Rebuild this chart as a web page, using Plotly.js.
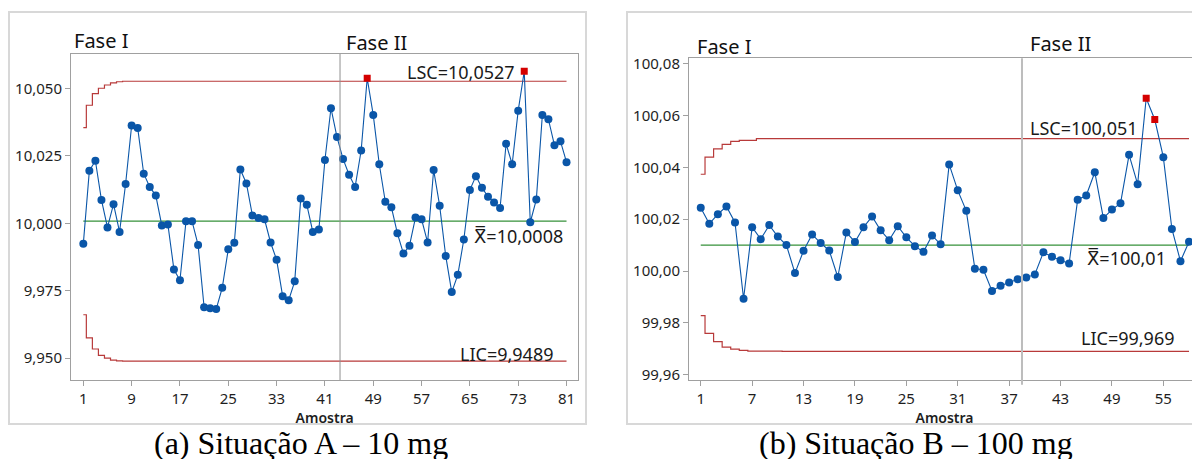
<!DOCTYPE html>
<html>
<head>
<meta charset="utf-8">
<script src="https://cdn.plot.ly/plotly-3.0.1.min.js"></script>
<style>
html,body{margin:0;padding:0;overflow:hidden;background:#fff;}
#chart{width:1210px;height:461px;}
</style>
</head>
<body>
<div id="chart"></div>
<script>
// ---- Situação A (10 mg) ----
const valuesA = [9.9924, 10.0195, 10.0232, 10.0087, 9.9985, 10.0071, 9.9968, 10.0146, 10.0363, 10.0354,
 10.0184, 10.0135, 10.0103, 9.9992, 9.9996, 9.9829, 9.9789, 10.0008, 10.0008, 9.9920,
 9.9689, 9.9685, 9.9682, 9.9761, 9.9904, 9.9928, 10.0200, 10.0148, 10.0029, 10.0020,
 10.0015, 9.9929, 9.9865, 9.9730, 9.9715, 9.9785, 10.0092, 10.0069, 9.9968, 9.9977,
 10.0235, 10.0427, 10.0320, 10.0239, 10.0180, 10.0135, 10.0270, 10.0538, 10.0402, 10.0219,
 10.0080, 10.0060, 9.9963, 9.9888, 9.9917, 10.0022, 10.0015, 9.9929, 10.0198, 10.0065,
 9.9879, 9.9745, 9.9809, 9.9940, 10.0124, 10.0175, 10.0132, 10.0099, 10.0077, 10.0057,
 10.0295, 10.0219, 10.0418, 10.0564, 10.0004, 10.0088, 10.0402, 10.0386, 10.0290, 10.0304,
 10.0227];
const outA = [48, 74];
const meanA = 10.0008;
const uclA = 10.0527;
const lclA = 9.9489;
const uclStartA = [10.0355, 10.0438, 10.0481, 10.0501, 10.0513, 10.0521, 10.0525];
const lclStartA = [9.9661, 9.9575, 9.9534, 9.9510, 9.9500, 9.9493, 9.9490];
const phaseSplitA = 43.5;
const ticksXA = [1, 9, 17, 25, 33, 41, 49, 57, 65, 73, 81];
const ticksYA = [9.950, 9.975, 10.000, 10.025, 10.050];

// ---- Situação B (100 mg) ----
const valuesB = [100.0244, 100.0182, 100.0219, 100.0249, 100.0187, 99.9893, 100.0169, 100.0123, 100.0177, 100.0133,
 100.0100, 99.9992, 100.0078, 100.0141, 100.0108, 100.0079, 99.9977, 100.0149, 100.0112, 100.0169,
 100.0210, 100.0157, 100.0119, 100.0173, 100.0130, 100.0096, 100.0074, 100.0137, 100.0103, 100.0411,
 100.0311, 100.0232, 100.0009, 100.0005, 99.9923, 99.9943, 99.9956, 99.9968, 99.9975, 99.9987,
 100.0072, 100.0055, 100.0042, 100.0029, 100.0275, 100.0291, 100.0381, 100.0204, 100.0237, 100.0261,
 100.0448, 100.0335, 100.0666, 100.0584, 100.0439, 100.0162, 100.0038, 100.0113];
const outB = [53, 54];
const meanB = 100.01;
const uclB = 100.051;
const lclB = 99.969;
const uclStartB = [100.0373, 100.0439, 100.0471, 100.0488, 100.0500, 100.0504, 100.0504];
const lclStartB = [99.9828, 99.9760, 99.9728, 99.9707, 99.9699, 99.9694, 99.9691, 99.9691, 99.9691, 99.9691];
const phaseSplitB = 38.5;
const ticksXB = [1, 7, 13, 19, 25, 31, 37, 43, 49, 55];
const ticksYB = [99.96, 99.98, 100.00, 100.02, 100.04, 100.06, 100.08];

const W = 1210, H = 461;
const px = v => v / W;
const py = v => 1 - v / H;

const BLUE = '#0a56a8', RED = '#d40000', LIMIT = '#b83a3a', GREEN = '#36913a';

function limitSeries(n, start, c) {
  const out = [];
  for (let i = 0; i < n; i++) out.push(i < start.length ? start[i] : c);
  return out;
}

function panelTraces(vals, outs, mean, ucl, lcl, uStart, lStart, xa, ya) {
  const n = vals.length;
  const xs = vals.map((_, i) => i + 1);
  const isOut = xs.map(s => outs.indexOf(s) >= 0);
  return [
    {x: xs, y: limitSeries(n, uStart, ucl), mode: 'lines', line: {color: LIMIT, width: 1.2, shape: 'hvh'}, xaxis: xa, yaxis: ya, hoverinfo: 'skip'},
    {x: xs, y: limitSeries(n, lStart, lcl), mode: 'lines', line: {color: LIMIT, width: 1.2, shape: 'hvh'}, xaxis: xa, yaxis: ya, hoverinfo: 'skip'},
    {x: [1, n], y: [mean, mean], mode: 'lines', line: {color: GREEN, width: 1.2}, xaxis: xa, yaxis: ya, hoverinfo: 'skip'},
    {x: xs, y: vals, mode: 'lines+markers', line: {color: BLUE, width: 1.1},
     marker: {color: isOut.map(o => o ? RED : BLUE), size: isOut.map(o => o ? 7 : 8), symbol: isOut.map(o => o ? 'square' : 'circle'),
              opacity: 1, line: {width: 0}},
     xaxis: xa, yaxis: ya}
  ];
}

const data = [].concat(
  panelTraces(valuesA, outA, meanA, uclA, lclA, uclStartA, lclStartA, 'x', 'y'),
  panelTraces(valuesB, outB, meanB, uclB, lclB, uclStartB, lclStartB, 'x2', 'y2')
);

const axisFont = {family: 'Noto Sans, sans-serif', size: 15, color: '#1e1e1e'};
const xCommon = {showgrid: false, zeroline: false, showline: true, linecolor: '#a0a0a0', linewidth: 1, mirror: true,
  ticks: 'outside', ticklen: 5, tickcolor: '#a0a0a0', tickfont: axisFont, tickmode: 'array',
  title: {text: 'Amostra', font: {family: 'Noto Sans, sans-serif', size: 14, color: '#1e1e1e', weight: 600}, standoff: 1}};
const yCommon = {showgrid: false, zeroline: false, showline: true, linecolor: '#a0a0a0', linewidth: 1, mirror: true,
  ticks: 'outside', ticklen: 5, tickcolor: '#a0a0a0', tickfont: axisFont, tickmode: 'array'};

const lblFont = {family: 'Noto Sans, sans-serif', size: 18, color: '#1a1a1a'};
const faseFont = {family: 'Noto Sans, sans-serif', size: 20, color: '#111'};
const capFont = {family: 'Liberation Serif, serif', size: 32, color: '#000'};
function ann(text, x, y, font, xanchor, yanchor) {
  return {text: text, x: px(x), y: py(y), xref: 'paper', yref: 'paper', xanchor: xanchor || 'left', yanchor: yanchor || 'middle', showarrow: false, font: font};
}
const XBAR = '<span style="font-family:DejaVu Sans">X\u033F</span>';
function caption(text, x) {
  const a = ann(text, x, 461, capFont, 'center', 'bottom');
  a.height = 32; a.valign = 'middle';
  return a;
}

const layout = {
  width: W, height: H,
  margin: {l: 0, r: 0, t: 0, b: 0},
  paper_bgcolor: '#fff', plot_bgcolor: '#fff',
  showlegend: false,
  separators: ',.',
  xaxis: Object.assign({}, xCommon, {domain: [px(71), px(578.3)], range: [-1.04, 82.95], tickvals: ticksXA, anchor: 'y'}),
  yaxis: Object.assign({}, yCommon, {domain: [py(380), py(54)], range: [9.9419, 10.0628], tickvals: ticksYA, tickformat: '.3f', anchor: 'x'}),
  xaxis2: Object.assign({}, xCommon, {domain: [px(689), px(1200)], range: [-0.37, 59.28], tickvals: ticksXB, anchor: 'y2'}),
  yaxis2: Object.assign({}, yCommon, {domain: [py(380), py(58.3)], range: [99.958, 100.082], tickvals: ticksYB, tickformat: '.2f', anchor: 'x2'}),
  shapes: [
    {type: 'rect', xref: 'paper', yref: 'paper', x0: px(9), x1: px(586), y0: py(424), y1: py(12), line: {color: '#d8d8d8', width: 2}},
    {type: 'rect', xref: 'paper', yref: 'paper', x0: px(627), x1: px(1206), y0: py(424), y1: py(12), line: {color: '#d8d8d8', width: 2}},
    {type: 'line', xref: 'x', yref: 'y domain', x0: phaseSplitA, x1: phaseSplitA, y0: 0, y1: 1, line: {color: '#909090', width: 1}},
    {type: 'line', xref: 'x2', yref: 'y2 domain', x0: phaseSplitB, x1: phaseSplitB, y0: -0.015, y1: 1, line: {color: '#bdbdbd', width: 2}}
  ],
  annotations: [
    ann('Fase I', 71.7, 40.8, faseFont),
    ann('Fase II', 344.3, 42.8, faseFont),
    ann('LSC=10,0527', 405, 72.3, lblFont),
    ann(XBAR + '=10,0008', 471.7, 236, lblFont),
    ann('LIC=9,9489', 458, 353.8, lblFont),
    ann('Fase I', 695, 46.2, faseFont),
    ann('Fase II', 1027.7, 43, faseFont),
    ann('LSC=100,051', 1027.7, 128.3, lblFont),
    ann(XBAR + '=100,01', 1085, 257.8, lblFont),
    ann('LIC=99,969', 1079.3, 337.7, lblFont),
    caption('(a) Situação A – 10 mg', 301),
    caption('(b) Situação B – 100 mg', 916)
  ]
};

Plotly.newPlot('chart', data, layout, {displayModeBar: false, staticPlot: true});
</script>
</body>
</html>
